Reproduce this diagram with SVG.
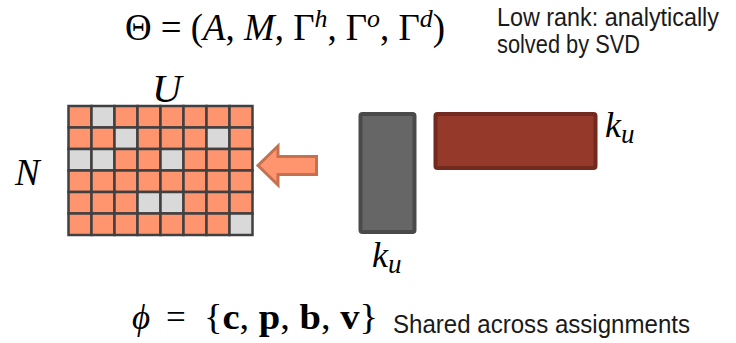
<svg xmlns="http://www.w3.org/2000/svg" width="736" height="343" viewBox="0 0 736 343">
<style>
.m{font-family:"Liberation Serif","DejaVu Serif",serif;fill:#000}
.i{font-style:italic}
.t{font-family:"Liberation Sans","DejaVu Sans",sans-serif;fill:#1a1a1a;font-size:25px}
.c{fill:#FF956F;stroke:#404040;stroke-width:2.5}
.g{fill:#D9D9D9;stroke:#404040;stroke-width:2.5}
</style>
<rect width="736" height="343" fill="#fff"/>
<g id="theta">
<text class="m" x="125" y="40" font-size="37" textLength="320" lengthAdjust="spacingAndGlyphs">Θ = (<tspan class="i">A</tspan>, <tspan class="i">M</tspan>, Γ<tspan class="i" font-size="26" dy="-13">h</tspan><tspan dy="13">, Γ</tspan><tspan class="i" font-size="26" dy="-13">o</tspan><tspan dy="13">, Γ</tspan><tspan class="i" font-size="26" dy="-13">d</tspan><tspan dy="13">)</tspan></text>
</g>
<g id="lowrank">
<text class="t" x="497" y="26" textLength="222" lengthAdjust="spacingAndGlyphs">Low rank: analytically</text>
<text class="t" x="497" y="53" textLength="143" lengthAdjust="spacingAndGlyphs">solved by SVD</text>
</g>
<g id="U-label"><text class="m i" x="152" y="102" font-size="41">U</text></g>
<g id="N-label"><text class="m i" x="15" y="185" font-size="37">N</text></g>
<g id="matrix">
<g transform="translate(68.5,106)">
<rect class="c" x="0" y="0" width="23" height="21.5"/><rect class="g" x="23" y="0" width="23" height="21.5"/><rect class="c" x="46" y="0" width="23" height="21.5"/><rect class="c" x="69" y="0" width="23" height="21.5"/><rect class="c" x="92" y="0" width="23" height="21.5"/><rect class="c" x="115" y="0" width="23" height="21.5"/><rect class="c" x="138" y="0" width="23" height="21.5"/><rect class="c" x="161" y="0" width="23" height="21.5"/>
<rect class="c" x="0" y="21.5" width="23" height="21.5"/><rect class="c" x="23" y="21.5" width="23" height="21.5"/><rect class="g" x="46" y="21.5" width="23" height="21.5"/><rect class="c" x="69" y="21.5" width="23" height="21.5"/><rect class="c" x="92" y="21.5" width="23" height="21.5"/><rect class="c" x="115" y="21.5" width="23" height="21.5"/><rect class="g" x="138" y="21.5" width="23" height="21.5"/><rect class="c" x="161" y="21.5" width="23" height="21.5"/>
<rect class="g" x="0" y="43" width="23" height="21.5"/><rect class="g" x="23" y="43" width="23" height="21.5"/><rect class="c" x="46" y="43" width="23" height="21.5"/><rect class="c" x="69" y="43" width="23" height="21.5"/><rect class="g" x="92" y="43" width="23" height="21.5"/><rect class="c" x="115" y="43" width="23" height="21.5"/><rect class="c" x="138" y="43" width="23" height="21.5"/><rect class="c" x="161" y="43" width="23" height="21.5"/>
<rect class="c" x="0" y="64.5" width="23" height="21.5"/><rect class="c" x="23" y="64.5" width="23" height="21.5"/><rect class="c" x="46" y="64.5" width="23" height="21.5"/><rect class="c" x="69" y="64.5" width="23" height="21.5"/><rect class="c" x="92" y="64.5" width="23" height="21.5"/><rect class="c" x="115" y="64.5" width="23" height="21.5"/><rect class="c" x="138" y="64.5" width="23" height="21.5"/><rect class="c" x="161" y="64.5" width="23" height="21.5"/>
<rect class="c" x="0" y="86" width="23" height="21.5"/><rect class="c" x="23" y="86" width="23" height="21.5"/><rect class="c" x="46" y="86" width="23" height="21.5"/><rect class="g" x="69" y="86" width="23" height="21.5"/><rect class="g" x="92" y="86" width="23" height="21.5"/><rect class="c" x="115" y="86" width="23" height="21.5"/><rect class="c" x="138" y="86" width="23" height="21.5"/><rect class="c" x="161" y="86" width="23" height="21.5"/>
<rect class="c" x="0" y="107.5" width="23" height="21.5"/><rect class="c" x="23" y="107.5" width="23" height="21.5"/><rect class="c" x="46" y="107.5" width="23" height="21.5"/><rect class="c" x="69" y="107.5" width="23" height="21.5"/><rect class="c" x="92" y="107.5" width="23" height="21.5"/><rect class="c" x="115" y="107.5" width="23" height="21.5"/><rect class="c" x="138" y="107.5" width="23" height="21.5"/><rect class="g" x="161" y="107.5" width="23" height="21.5"/>
</g>
</g>
<g id="connectors">
<path d="M316.5 156.5 L278 156.5 L278 146 L258 165.5 L278 185 L278 174.5 L316.5 174.5 Z" fill="#FF956F" stroke="#C5704F" stroke-width="3" stroke-linejoin="miter"/>
</g>
<g id="V-matrix">
<rect x="360.5" y="114" width="54" height="118" rx="2" fill="#666" stroke="#4A4A4A" stroke-width="4"/>
</g>
<g id="W-matrix">
<rect x="435.5" y="114" width="160" height="54" rx="2" fill="#953A2B" stroke="#72291E" stroke-width="4"/>
</g>
<g id="ku-right"><text class="m i" x="605" y="137" font-size="36">k<tspan font-size="27" dy="6">u</tspan></text></g>
<g id="ku-bottom"><text class="m i" x="372" y="267" font-size="36">k<tspan font-size="27" dy="6">u</tspan></text></g>
<g id="phi">
<text class="m" y="329" font-size="35"><tspan class="i" x="132">ϕ</tspan><tspan x="166">=</tspan><tspan x="204" textLength="174" lengthAdjust="spacingAndGlyphs">{<tspan font-weight="bold">c</tspan>, <tspan font-weight="bold">p</tspan>, <tspan font-weight="bold">b</tspan>, <tspan font-weight="bold">v</tspan>}</tspan></text>
<text class="t" x="393" y="333" textLength="297" lengthAdjust="spacingAndGlyphs">Shared across assignments</text>
</g>
</svg>
